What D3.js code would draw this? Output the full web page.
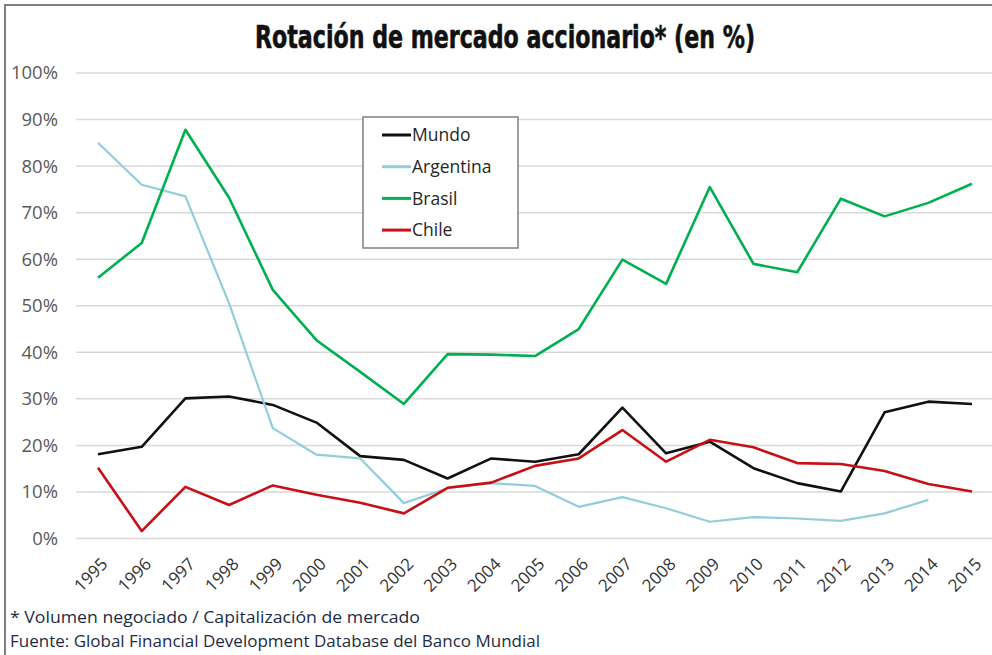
<!DOCTYPE html>
<html>
<head>
<meta charset="utf-8">
<script src="https://cdnjs.cloudflare.com/ajax/libs/d3/7.8.5/d3.min.js"></script>
<style>
  body { margin: 0; background: #fff; }
  svg { display: block; }
</style>
</head>
<body>
<div id="chart"></div>
<script>
var width = 992, height = 655;

// datos (en %)
var years = [1995, 1996, 1997, 1998, 1999, 2000, 2001, 2002, 2003, 2004, 2005,
             2006, 2007, 2008, 2009, 2010, 2011, 2012, 2013, 2014, 2015];
var mundo     = [18.1, 19.7, 30.1, 30.5, 28.7, 24.9, 17.7, 16.9, 12.9, 17.2, 16.5,
                 18.1, 28.1, 18.3, 20.8, 15.1, 11.9, 10.1, 27.1, 29.4, 28.9];
var argentina = [85.0, 76.0, 73.5, 50.5, 23.7, 18.0, 17.2, 7.6, 10.8, 11.9, 11.3,
                 6.8, 8.9, 6.5, 3.6, 4.6, 4.3, 3.8, 5.4, 8.3, null];
var brasil    = [56.0, 63.5, 87.8, 73.2, 53.4, 42.6, 35.8, 28.9, 39.6, 39.5, 39.2,
                 45.0, 59.9, 54.7, 75.5, 59.0, 57.2, 73.0, 69.2, 72.1, 76.2];
var chile     = [15.2, 1.6, 11.1, 7.2, 11.4, 9.4, 7.7, 5.4, 10.9, 12.0, 15.6,
                 17.2, 23.3, 16.5, 21.2, 19.6, 16.2, 16.0, 14.5, 11.7, 10.1];
var seriesNames = ['Mundo', 'Argentina', 'Brasil', 'Chile'];
var yTicks = [0, 10, 20, 30, 40, 50, 60, 70, 80, 90, 100];

var colors = d3.scaleOrdinal()
  .domain(seriesNames)
  .range(['#111111', '#92cddc', '#00b050', '#c80f14']);

var series = [
  {name: 'Mundo', values: mundo},
  {name: 'Argentina', values: argentina},
  {name: 'Brasil', values: brasil},
  {name: 'Chile', values: chile}
];

var svg = d3.select('#chart').append('svg')
  .attr('width', width)
  .attr('height', height);

var x = d3.scalePoint().domain(years).range([98, 972]);
var y = d3.scaleLinear().domain([0, 100]).range([538.5, 73]);

// marco
svg.append('path')
  .attr('d', 'M5,655 V5 H992')
  .attr('fill', 'none')
  .attr('stroke', '#7f7f7f')
  .attr('stroke-width', 2);

// titulo
var title = svg.append('text')
  .attr('x', 505)
  .attr('y', 48)
  .attr('text-anchor', 'middle')
  .style('font-family', '"DejaVu Sans Condensed", "DejaVu Sans", sans-serif')
  .style('font-weight', 'bold')
  .style('font-size', '32px')
  .attr('fill', '#111')
  .attr('stroke', '#111')
  .attr('stroke-width', 0.6)
  .text('Rotación de mercado accionario* (en %)');
title.attr('textLength', 500).attr('lengthAdjust', 'spacingAndGlyphs');

// grilla
svg.append('g').selectAll('line')
  .data(yTicks)
  .join('line')
  .attr('x1', 76).attr('x2', 992)
  .attr('y1', function(d) { return y(d); })
  .attr('y2', function(d) { return y(d); })
  .attr('stroke', '#d9d9d9')
  .attr('stroke-width', 1.5);

// eje y
var yAxis = svg.append('g')
  .attr('transform', 'translate(58,0)')
  .call(d3.axisLeft(y).tickValues(yTicks).tickSize(0).tickPadding(0)
    .tickFormat(function(d) { return d + '%'; }));
yAxis.select('.domain').remove();
yAxis.selectAll('text')
  .style('font-family', '"Open Sans", sans-serif')
  .style('font-size', '18.5px')
  .attr('fill', '#595959');

// eje x
var xAxis = svg.append('g')
  .attr('transform', 'translate(0,548)')
  .call(d3.axisBottom(x).tickSize(0).tickPadding(0));
xAxis.select('.domain').remove();
xAxis.selectAll('text')
  .style('font-family', '"Open Sans", sans-serif')
  .style('font-size', '17px')
  .attr('fill', '#333')
  .attr('text-anchor', 'end')
  .attr('dy', '0.35em')
  .attr('transform', 'translate(6,13) rotate(-45)');

// lineas
var line = d3.line()
  .defined(function(d) { return d != null; })
  .x(function(d, i) { return x(years[i]); })
  .y(function(d) { return y(d); });

svg.append('g').selectAll('path')
  .data(series)
  .join('path')
  .attr('d', function(d) { return line(d.values); })
  .attr('fill', 'none')
  .attr('stroke', function(d) { return colors(d.name); })
  .attr('stroke-width', function(d) { return d.name == 'Argentina' ? 2.2 : 2.6; })
  .attr('stroke-linejoin', 'round');

// leyenda
var legend = svg.append('g').attr('transform', 'translate(363,117)');
legend.append('rect')
  .attr('width', 155).attr('height', 131)
  .attr('fill', '#fff')
  .attr('stroke', '#7f7f7f')
  .attr('stroke-width', 1.5);
var items = legend.selectAll('g.item')
  .data(seriesNames)
  .join('g')
  .attr('class', 'item')
  .attr('transform', function(d, i) { return 'translate(0,' + (18 + i * 31.7) + ')'; });
items.append('line')
  .attr('x1', 19).attr('x2', 48)
  .attr('stroke', function(d) { return colors(d); })
  .attr('stroke-width', 3);
items.append('text')
  .attr('x', 49)
  .attr('dy', '0.35em')
  .style('font-family', '"Open Sans", sans-serif')
  .style('font-size', '17.5px')
  .attr('fill', '#262626')
  .text(function(d) { return d; });

// notas
svg.append('text')
  .attr('x', 10).attr('y', 623)
  .style('font-family', '"Open Sans", sans-serif')
  .style('font-size', '15.5px')
  .attr('fill', '#1c2c44')
  .attr('textLength', 410).attr('lengthAdjust', 'spacingAndGlyphs')
  .text('* Volumen negociado / Capitalización de mercado');
svg.append('text')
  .attr('x', 10).attr('y', 647)
  .style('font-family', '"Open Sans", sans-serif')
  .style('font-size', '15.5px')
  .attr('fill', '#1c2c44')
  .attr('textLength', 530).attr('lengthAdjust', 'spacingAndGlyphs')
  .text('Fuente: Global Financial Development Database del Banco Mundial');
</script>
</body>
</html>
